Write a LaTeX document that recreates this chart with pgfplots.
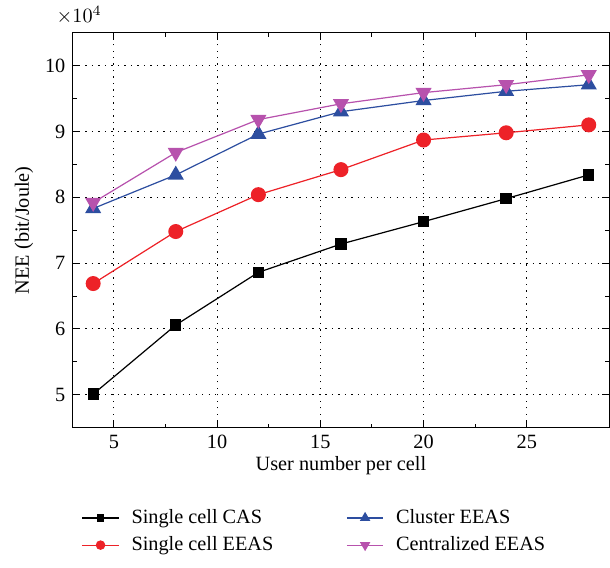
\documentclass[border=0pt]{standalone}
\usepackage{fontspec}
\setmainfont{Liberation Serif}
\usepackage{pgfplots}
\pgfplotsset{compat=1.18}
\definecolor{cas}{RGB}{0,0,0}
\definecolor{seeas}{RGB}{237,34,40}
\definecolor{ceeas}{RGB}{45,78,160}
\definecolor{zeeas}{RGB}{183,82,173}

\begin{document}
\fontsize{10}{12}\selectfont
\begin{tikzpicture}
\begin{axis}[
    scale only axis,
    width=265pt, height=195pt,
    xmin=3, xmax=29,
    ymin=4.5, ymax=10.5,
    xtick={5,10,15,20,25},
    ytick={5,6,7,8,9,10},
    minor x tick num=1,
    minor y tick num=1,
    tick align=inside,
    xtick pos=both, ytick pos=both,
    major tick length=3.5pt,
    minor tick length=2pt,
    grid=major,
    grid style={black, line width=0.5pt, dash pattern=on 0.6pt off 2.6pt},
    axis line style={black, line width=0.6pt},
    tick style={black, line width=0.5pt},
    /pgf/number format/assume math mode=true,
    tick label style={font=\fontsize{10}{12}\selectfont},
    label style={font=\fontsize{10}{12}\selectfont},
    xlabel={User number per cell},
    ylabel={NEE (bit/Joule)},
    xlabel style={yshift=3pt},
    ylabel style={yshift=-1pt},
    legend columns=2,
    transpose legend,
    legend cell align=left,
    legend style={at={(axis description cs:0.005,-0.185)}, anchor=north west,
        draw=none, fill=none, font=\fontsize{10}{12}\selectfont,
        row sep=1pt,
        /tikz/every even column/.append style={column sep=34pt},
        /tikz/every odd column/.append style={column sep=4pt}},
    legend image code/.code={\draw[mark repeat=2,mark phase=2, every mark/.append style={scale=0.6}] plot coordinates {(0pt,0pt)(9pt,0pt)(18pt,0pt)};},
    every axis plot/.append style={line width=0.6pt},
    clip=false
]
\addplot[cas, mark=square*, mark size=2.5pt, mark options={fill=black}] coordinates {
    (4,5.01) (8,6.06) (12,6.86) (16,7.29) (20,7.63) (24,7.98) (28,8.34)
};
\addlegendentry{Single cell CAS}
\addplot[seeas, mark=*, mark size=3.4pt, mark options={fill=seeas}] coordinates {
    (4,6.69) (8,7.48) (12,8.04) (16,8.42) (20,8.87) (24,8.98) (28,9.10)
};
\addlegendentry{Single cell EEAS}
\addplot[ceeas, mark=triangle*, mark size=4pt, mark options={fill=ceeas}] coordinates {
    (4,7.83) (8,8.34) (12,8.96) (16,9.30) (20,9.47) (24,9.61) (28,9.71)
};
\addlegendentry{Cluster EEAS}
\addplot[zeeas, mark=triangle*, mark size=4pt, mark options={fill=zeeas, rotate=180}] coordinates {
    (4,7.92) (8,8.68) (12,9.18) (16,9.42) (20,9.59) (24,9.71) (28,9.86)
};
\addlegendentry{Centralized EEAS}
\node[anchor=base west, inner sep=0pt, font=\fontsize{10}{12}\selectfont] at (axis description cs:0,1) [xshift=-8pt, yshift=5pt] {$\times 10^4$};
\end{axis}
\path (current bounding box.north west) ++(-4pt,3pt);
\path (current bounding box.south west) ++(0pt,-3pt);
\end{tikzpicture}
\end{document}
